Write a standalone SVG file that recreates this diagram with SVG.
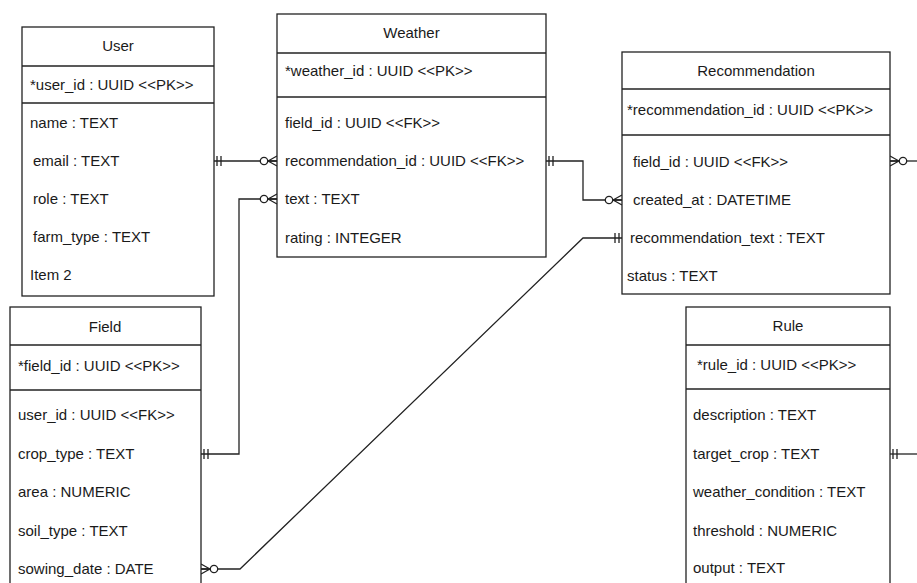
<svg xmlns="http://www.w3.org/2000/svg" width="917" height="583" viewBox="0 0 917 583">
<style>
.box{fill:#fff;stroke:#222;stroke-width:1.3}
.sep{stroke:#222;stroke-width:1.3}
.t{font-family:"Liberation Sans",Arial,sans-serif;font-size:15px;fill:#1a1a1a}
.c{text-anchor:middle}
.ln{fill:none;stroke:#222;stroke-width:1.3}
</style>
<defs>
<marker id="one" markerUnits="userSpaceOnUse" markerWidth="20" markerHeight="20" viewBox="-15 -10 20 20" refX="0" refY="0" orient="auto-start-reverse" overflow="visible">
<path d="M-3,-5V5M-7,-5V5" fill="none" stroke="#222" stroke-width="1.3"/>
</marker>
<marker id="zmany" markerUnits="userSpaceOnUse" markerWidth="24" markerHeight="20" viewBox="-20 -10 24 20" refX="0" refY="0" orient="auto-start-reverse" overflow="visible">
<path d="M-9,0L0,-5M-9,0L0,0M-9,0L0,5" fill="none" stroke="#222" stroke-width="1.3"/>
<circle cx="-13" cy="0" r="3.7" fill="#fff" stroke="#222" stroke-width="1.3"/>
</marker>
</defs>
<rect width="917" height="583" fill="#fff"/>

<g id="connectors">
<path class="ln" d="M214,161H277" marker-start="url(#one)" marker-end="url(#zmany)"/>
<path class="ln" d="M201,454H239V199H277" marker-start="url(#one)" marker-end="url(#zmany)"/>
<path class="ln" d="M546,161H583V200H622" marker-start="url(#one)" marker-end="url(#zmany)"/>
<path class="ln" d="M201,569H240L583,238H622" marker-start="url(#zmany)" marker-end="url(#one)"/>
<path class="ln" d="M890,161H917" marker-start="url(#zmany)"/>
<path class="ln" d="M890,454H917" marker-start="url(#one)"/>
</g>

<g id="user">
<rect class="box" x="22" y="27" width="192" height="269"/>
<line class="sep" x1="22" y1="66" x2="214" y2="66"/>
<line class="sep" x1="22" y1="103" x2="214" y2="103"/>
<text class="t c" x="118" y="51">User</text>
<text class="t" x="30" y="90">*user_id : UUID &lt;&lt;PK&gt;&gt;</text>
<text class="t" x="30" y="128">name : TEXT</text>
<text class="t" x="33" y="166">email : TEXT</text>
<text class="t" x="33" y="204">role : TEXT</text>
<text class="t" x="33" y="242">farm_type : TEXT</text>
<text class="t" x="30" y="280">Item 2</text>
</g>

<g id="weather">
<rect class="box" x="277" y="14" width="269" height="243"/>
<line class="sep" x1="277" y1="53" x2="546" y2="53"/>
<line class="sep" x1="277" y1="97" x2="546" y2="97"/>
<text class="t c" x="411.5" y="38">Weather</text>
<text class="t" x="285" y="76">*weather_id : UUID &lt;&lt;PK&gt;&gt;</text>
<text class="t" x="285" y="128">field_id : UUID &lt;&lt;FK&gt;&gt;</text>
<text class="t" x="285" y="166">recommendation_id : UUID &lt;&lt;FK&gt;&gt;</text>
<text class="t" x="285" y="204">text : TEXT</text>
<text class="t" x="285" y="243">rating : INTEGER</text>
</g>

<g id="recommendation">
<rect class="box" x="622" y="52" width="268" height="242"/>
<line class="sep" x1="622" y1="89" x2="890" y2="89"/>
<line class="sep" x1="622" y1="135" x2="890" y2="135"/>
<text class="t c" x="756" y="76">Recommendation</text>
<text class="t" x="627" y="115">*recommendation_id : UUID &lt;&lt;PK&gt;&gt;</text>
<text class="t" x="633" y="167">field_id : UUID &lt;&lt;FK&gt;&gt;</text>
<text class="t" x="633" y="205">created_at : DATETIME</text>
<text class="t" x="630" y="243">recommendation_text : TEXT</text>
<text class="t" x="627" y="281">status : TEXT</text>
</g>

<g id="field">
<rect class="box" x="10" y="307" width="191" height="300"/>
<line class="sep" x1="10" y1="345" x2="201" y2="345"/>
<line class="sep" x1="10" y1="390" x2="201" y2="390"/>
<text class="t c" x="105" y="332">Field</text>
<text class="t" x="18" y="371">*field_id : UUID &lt;&lt;PK&gt;&gt;</text>
<text class="t" x="18" y="420">user_id : UUID &lt;&lt;FK&gt;&gt;</text>
<text class="t" x="18" y="459">crop_type : TEXT</text>
<text class="t" x="18" y="497">area : NUMERIC</text>
<text class="t" x="18" y="536">soil_type : TEXT</text>
<text class="t" x="18" y="574">sowing_date : DATE</text>
</g>

<g id="rule">
<rect class="box" x="686" y="307" width="204" height="300"/>
<line class="sep" x1="686" y1="345" x2="890" y2="345"/>
<line class="sep" x1="686" y1="389" x2="890" y2="389"/>
<text class="t c" x="788" y="331">Rule</text>
<text class="t" x="697" y="370">*rule_id : UUID &lt;&lt;PK&gt;&gt;</text>
<text class="t" x="693" y="420">description : TEXT</text>
<text class="t" x="693" y="459">target_crop : TEXT</text>
<text class="t" x="693" y="497">weather_condition : TEXT</text>
<text class="t" x="693" y="536">threshold : NUMERIC</text>
<text class="t" x="693" y="573">output : TEXT</text>
</g>
</svg>
